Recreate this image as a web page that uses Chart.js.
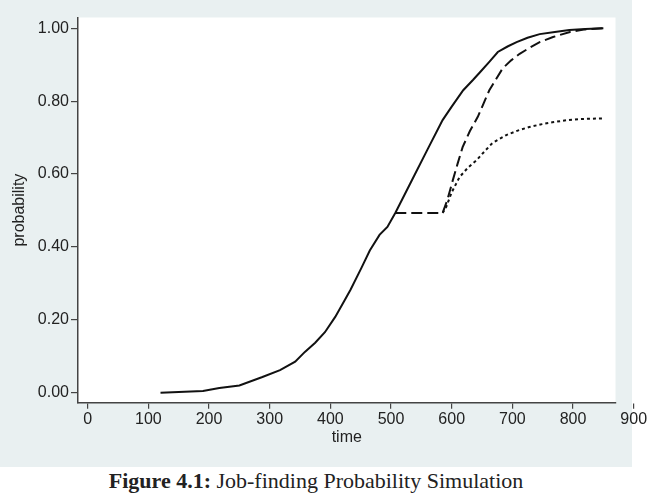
<!DOCTYPE html>
<html>
<head>
<meta charset="utf-8">
<script src="https://cdn.jsdelivr.net/npm/chart.js@4.4.0/dist/chart.umd.min.js"></script>
<style>
  body { margin: 0; background: #ffffff; }
  #wrap { position: relative; width: 660px; height: 500px; }
  #caption {
    position: absolute; left: 0; top: 468px; width: 632px; text-align: center;
    font-family: "Liberation Serif", "Times New Roman", serif; font-size: 22px; color: #222;
  }
</style>
</head>
<body>
<div id="wrap">
  <canvas id="chart" width="660" height="467"></canvas>
  <div id="caption"><b>Figure 4.1:</b> Job-finding Probability Simulation</div>
</div>
<script>
// solid line
const timeSolid = [120, 150, 190, 217, 250, 288, 317, 342, 358, 375, 391, 408, 421, 433, 451, 465, 481, 494, 507, 535, 560, 585, 600, 619, 635, 647, 662, 676, 692, 707, 725, 745, 770, 794, 820, 850];
const probSolid = [0.000, 0.002, 0.005, 0.013, 0.020, 0.043, 0.062, 0.085, 0.112, 0.137, 0.166, 0.208, 0.246, 0.282, 0.342, 0.390, 0.433, 0.455, 0.493, 0.585, 0.667, 0.748, 0.785, 0.830, 0.858, 0.880, 0.908, 0.935, 0.950, 0.962, 0.974, 0.984, 0.990, 0.995, 0.998, 1.000];

// dashed line
const timeDashed = [507, 585, 593, 602, 610, 618, 630, 643, 662, 684, 698, 712, 730, 745, 767, 795, 820, 850];
const probDashed = [0.493, 0.493, 0.530, 0.584, 0.630, 0.674, 0.718, 0.757, 0.830, 0.890, 0.912, 0.930, 0.948, 0.962, 0.976, 0.990, 0.997, 1.000];

// dotted line
const timeDotted = [585, 591, 600, 613, 627, 641, 654, 667, 690, 710, 728, 746, 766, 790, 810, 852];
const probDotted = [0.493, 0.510, 0.550, 0.592, 0.618, 0.638, 0.662, 0.685, 0.707, 0.720, 0.729, 0.736, 0.742, 0.748, 0.751, 0.753];

const xTicks = [0, 100, 200, 300, 400, 500, 600, 700, 800, 900];
const yTicks = [0, 0.2, 0.4, 0.6, 0.8, 1.0];

function toPoints(xs, ys) {
  return xs.map((x, i) => ({ x: x, y: ys[i] }));
}

const axisColor = '#444';
const tickFont = { family: '"Liberation Sans", Arial, sans-serif', size: 16 };

// grey outer box and white plot region
const backgroundPlugin = {
  id: 'background',
  beforeDraw(chart) {
    let ctx = chart.ctx;
    let a = chart.chartArea;
    ctx.save();
    ctx.fillStyle = '#e9f0f1';
    ctx.fillRect(0, 0, 632, 467);
    ctx.fillStyle = '#ffffff';
    ctx.fillRect(a.left, a.top, a.right - a.left, a.bottom - a.top);
    ctx.restore();
  }
};

let ctx = document.getElementById('chart').getContext('2d');
let chart = new Chart(ctx, {
  type: 'scatter',
  data: {
    datasets: [{
      data: toPoints(timeSolid, probSolid),
      showLine: true,
      borderColor: '#111',
      borderWidth: 2,
      pointRadius: 0,
      tension: 0
    }, {
      data: toPoints(timeDashed, probDashed),
      showLine: true,
      borderColor: '#111',
      borderWidth: 2,
      borderDash: [11, 5],
      pointRadius: 0,
      tension: 0
    }, {
      data: toPoints(timeDotted, probDotted),
      showLine: true,
      borderColor: '#111',
      borderWidth: 2,
      borderDash: [3, 3],
      pointRadius: 0,
      tension: 0
    }]
  },
  options: {
    responsive: false,
    animation: false,
    layout: { padding: { top: 17.5, right: 44.5, left: 0, bottom: 0 } },
    plugins: {
      legend: { display: false },
      tooltip: { enabled: false }
    },
    scales: {
      x: {
        type: 'linear',
        min: -16,
        max: 870,
        afterBuildTicks: (scale) => { scale.ticks = xTicks.map(v => ({ value: v })); },
        afterFit: (scale) => { scale.height = 64.3; },
        ticks: {
          autoSkip: false, maxRotation: 0, minRotation: 0,
          padding: 1, color: '#222', font: tickFont,
          callback: (v) => String(v)
        },
        grid: { display: true, drawOnChartArea: false, drawTicks: true, tickLength: 6, color: axisColor, lineWidth: 1.2 },
        border: { display: true, color: axisColor, width: 1.5 },
        title: { display: true, text: 'time', color: '#222', font: tickFont, padding: { top: 0, bottom: 20 } }
      },
      y: {
        type: 'linear',
        min: -0.0274,
        max: 1.0296,
        afterBuildTicks: (scale) => { scale.ticks = yTicks.map(v => ({ value: v })); },
        afterFit: (scale) => { scale.width = 78; },
        ticks: {
          padding: 2, color: '#222', font: tickFont,
          callback: (v) => v.toFixed(2)
        },
        grid: { display: true, drawOnChartArea: false, drawTicks: true, tickLength: 7, color: axisColor, lineWidth: 1.2 },
        border: { display: true, color: axisColor, width: 1.5 },
        title: { display: true, text: 'probability', color: '#222', font: tickFont, padding: { top: 10, bottom: 0 } }
      }
    }
  },
  plugins: [backgroundPlugin]
});
</script>
</body>
</html>
